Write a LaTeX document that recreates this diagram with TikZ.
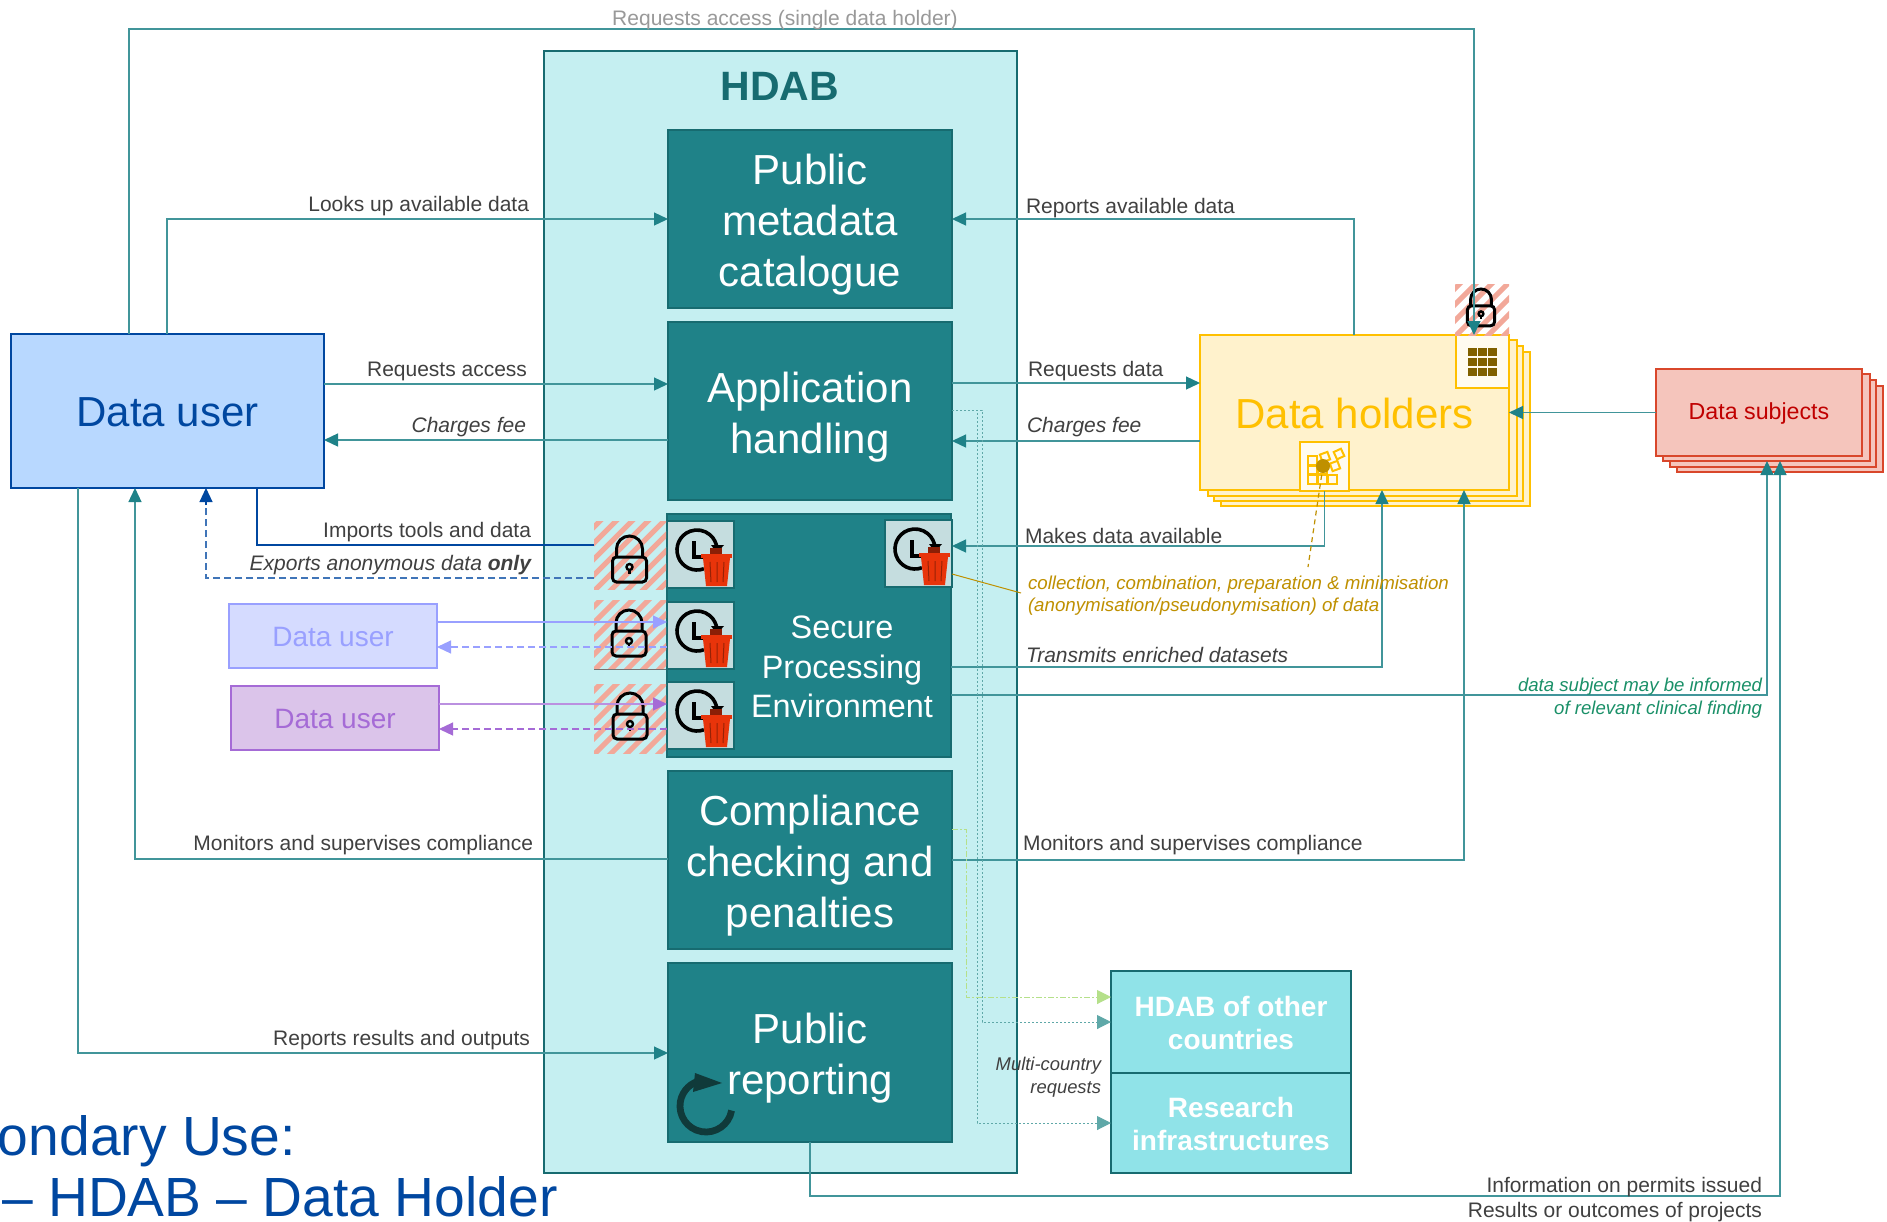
\documentclass[tikz,border=0pt]{standalone}
\usepackage{fontspec}
\setmainfont{Liberation Sans}
\usetikzlibrary{arrows.meta,calc}
\definecolor{tealbox}{HTML}{1F8288}
\definecolor{tealedge}{HTML}{176B70}
\definecolor{hdabfill}{HTML}{C5EFF1}
\definecolor{resfill}{HTML}{90E3E8}
\definecolor{conn}{HTML}{1F8288}
\definecolor{duedge}{HTML}{0047A0}
\definecolor{dufill}{HTML}{B8D8FF}
\definecolor{lavedge}{HTML}{99A0FF}
\definecolor{lavfill}{HTML}{D5DBFF}
\definecolor{puredge}{HTML}{A56BD6}
\definecolor{purfill}{HTML}{DBC4EA}
\definecolor{dhedge}{HTML}{FFC000}
\definecolor{dhfill}{HTML}{FFF2CC}
\definecolor{dsedge}{HTML}{D9472B}
\definecolor{dsfill}{HTML}{F5C5BC}
\definecolor{dstext}{HTML}{C00000}
\definecolor{lbltext}{HTML}{404040}
\definecolor{ochre}{HTML}{BF9000}
\definecolor{greent}{HTML}{1A9068}
\definecolor{hatchc}{HTML}{F2A899}
\definecolor{iconbg}{HTML}{C5DDDF}
\definecolor{trashc}{HTML}{E8340A}
\definecolor{dotc}{HTML}{5FA8A8}
\definecolor{greendash}{HTML}{B5E08A}
\definecolor{swirl}{HTML}{103A3A}
\tikzset{
  x=0.5pt,y=-0.5pt,
  bigbox/.style={draw=tealedge,fill=tealbox,line width=1.3pt},
  bigtext/.style={inner sep=0,text=white,align=center,yshift=-3pt,font=\fontsize{21}{25.5}\selectfont},
  sidebox/.style={draw=tealedge,fill=resfill,line width=1.3pt},
  sidetext/.style={inner sep=0,text=white,align=center,yshift=-0.5pt,font=\fontsize{14}{16.5}\selectfont\bfseries},
  boxlabel/.style={inner sep=0,yshift=-0.7pt},
  lbl/.style={inner sep=0,outer sep=0,yshift=-1pt,text=lbltext,font=\fontsize{10.5}{12.6}\selectfont},
  lblr/.style={lbl,anchor=east},
  lbll/.style={lbl,anchor=west},
  ilblr/.style={lblr,font=\fontsize{10.5}{12.6}\selectfont\itshape},
  ilbll/.style={lbll,font=\fontsize{10.5}{12.6}\selectfont\itshape},
  cn/.style={draw=conn!85!white,line width=0.65pt,-{Triangle[length=7pt,width=6.5pt,color=conn,fill=conn]}},
  iconbox/.style={draw=tealedge,fill=iconbg,line width=1pt},
  hatchbox/.style={path picture={\foreach \k in {-8,...,8}{\draw[hatchc,line width=2.5pt] ($(path picture bounding box.center)+(\k*16,0)+(-60,60)$) -- ++(120,-120);}}},
}
\newcommand{\pxbox}[7]{%
  \pgfmathsetmacro\pxcx{(#2+#4)/2}\pgfmathsetmacro\pxcy{(#3+#5)/2}%
  \pgfmathsetmacro\pxw{(#4-#2)*0.5}\pgfmathsetmacro\pxh{(#5-#3)*0.5}%
  \node[#6,minimum width=\pxw pt,minimum height=\pxh pt,inner sep=0,outer sep=0] (#1) at (\pxcx,\pxcy) {#7};}
\newcommand{\lockshape}{%
  \draw[black,line width=1.5pt,rounded corners=2pt] (-17,21) rectangle (17,46);
  \draw[black,line width=1.5pt] (-13,21) -- (-13,13) arc[start angle=180,end angle=360,radius=13] -- (13,21);
  \draw[black,line width=1.2pt] (0,31) circle (3);
  \draw[black,line width=1.2pt] (0,34) -- (0,38);}
\newcommand{\clockic}[3]{%
  \pxbox{#1}{#2}{#3}{#2+67}{#3+67}{iconbox}{}
  \begin{scope}[shift={(#2,#3)}]
    \draw[black,line width=1.8pt] (30,29) ++(70:20) arc[start angle=70,end angle=355,radius=20];
    \draw[black,line width=2.4pt] (27,20) -- (27,36) -- (37,36);
    \fill[black] (44,24) -- (57,24) -- (50,32) -- cycle;
    \fill[trashc!60!black] (43,27) rectangle (55,33);
    \fill[trashc] (34,33) rectangle (65,37);
    \fill[trashc] (36,37) -- (63,37) -- (60,65) -- (39,65) -- cycle;
    \draw[trashc!65!black,line width=0.5pt] (43,41) -- (44,61) (50,41) -- (50,61) (57,41) -- (56,61);
  \end{scope}}
\begin{document}
\begin{tikzpicture}
\useasboundingbox (0,0) rectangle (1887,1222);
\fill[white] (0,0) rectangle (1887,1222);
% HDAB
\pxbox{hdab}{544}{51}{1017}{1173}{draw=tealedge,fill=hdabfill,line width=1.3pt}{}
\node[inner sep=0,text=tealedge,font=\fontsize{20.5}{24}\selectfont\bfseries] (hdabt) at (780,86) {HDAB};
\pxbox{pmc}{668}{130}{952}{308}{bigbox}{}
\node[bigtext] (pmct) at (pmc.center) {Public\\metadata\\catalogue};
\pxbox{app}{668}{322}{952}{500}{bigbox}{}
\node[bigtext] (appt) at (app.center) {Application\\handling};
\pxbox{spe}{667}{514}{951}{757}{bigbox}{}
\node[inner sep=0,text=white,align=center,font=\fontsize{16.2}{19.7}\selectfont] (spet) at (842,667) {Secure\\Processing\\Environment};
\pxbox{comp}{668}{771}{952}{949}{bigbox}{}
\node[bigtext] (compt) at (comp.center) {Compliance\\checking and\\penalties};
\pxbox{pubr}{668}{963}{952}{1142}{bigbox}{}
% swirl
\draw[swirl,line width=3.4pt] (706,1106) ++(10:26) arc[start angle=10,end angle=262,radius=26];
\fill[swirl] (695,1073) -- (722,1083) -- (693,1092) -- cycle;
\node[bigtext] (pubrt) at (pubr.center) {Public\\reporting};
% side boxes
\pxbox{hdabo}{1111}{971}{1351}{1073}{sidebox}{}
\node[sidetext] (hdabot) at (hdabo.center) {HDAB of other\\countries};
\pxbox{res}{1111}{1073}{1351}{1173}{sidebox}{}
\node[sidetext] (rest) at (res.center) {Research\\infrastructures};
% users
\pxbox{du}{11}{334}{324}{488}{draw=duedge,fill=dufill,line width=1.2pt}{}
\node[boxlabel,text=duedge,font=\fontsize{21}{25}\selectfont] (dut) at (du.center) {Data user};
\pxbox{dul}{229}{604}{437}{668}{draw=lavedge,fill=lavfill,line width=1.2pt}{}
\node[boxlabel,text=lavedge,font=\fontsize{14}{17}\selectfont] (dult) at (dul.center) {Data user};
\pxbox{dup}{231}{686}{439}{750}{draw=puredge,fill=purfill,line width=1.2pt}{}
\node[boxlabel,text=puredge,font=\fontsize{14}{17}\selectfont] (dupt) at (dup.center) {Data user};
% data holders stack
\pxbox{dh4}{1221}{352}{1530}{506}{draw=dhedge,fill=dhfill,line width=1.2pt}{}
\pxbox{dh3}{1214}{346}{1523}{501}{draw=dhedge,fill=dhfill,line width=1.2pt}{}
\pxbox{dh2}{1208}{340}{1517}{496}{draw=dhedge,fill=dhfill,line width=1.2pt}{}
\pxbox{dh}{1200}{335}{1509}{490}{draw=dhedge,fill=dhfill,line width=1.2pt}{}
\node[boxlabel,text=dhedge,font=\fontsize{21}{25}\selectfont] (dht) at (dh.center) {Data holders};
\pxbox{dhgrid}{1456}{335}{1509}{388}{draw=dhedge,fill=white!70!dhfill,line width=1.2pt}{}
\foreach \i in {0,1,2}{\foreach \j in {0,1,2}{\fill[black!50!dhedge] (1468+\i*10.2,348+\j*10) rectangle ++(8.6,8.4);}}
\pxbox{dhicon}{1300}{442}{1349}{491}{draw=dhedge,fill=white!70!dhfill,line width=1.2pt}{}
\foreach \i/\j in {0/0,0/1,0/2,1/2,2/2,1/1}{\draw[dhedge,line width=1pt] (1308+\i*10,456+\j*9.5) rectangle ++(9,8.5);}
\draw[dhedge,line width=1pt,shift={(1325,457)},rotate=20] (-4,-4) rectangle (4,4);
\draw[dhedge,line width=1pt,shift={(1339,454)},rotate=25] (-4,-4) rectangle (4,4);
\draw[dhedge,line width=1pt,shift={(1335,466)},rotate=20] (-4,-4) rectangle (4,4);
% data subjects stack
\pxbox{ds4}{1677}{386}{1883}{472}{draw=dsedge,fill=dsfill,line width=1pt}{}
\pxbox{ds3}{1670}{380}{1876}{467}{draw=dsedge,fill=dsfill,line width=1pt}{}
\pxbox{ds2}{1663}{374}{1870}{461}{draw=dsedge,fill=dsfill,line width=1pt}{}
\pxbox{ds}{1656}{369}{1862}{456}{draw=dsedge,fill=dsfill,line width=1pt}{}
\node[boxlabel,text=dstext,font=\fontsize{11.6}{14}\selectfont] (dst) at (ds.center) {Data subjects};
% clocks
\clockic{ck1}{667}{521}
\clockic{ck2}{667}{602}
\clockic{ck3}{667}{682}
\clockic{ck4}{885}{520}
% locks
\pxbox{hb1}{594}{521}{666}{589}{hatchbox}{}
\pxbox{hb2}{594}{600}{666}{669}{hatchbox}{}
\pxbox{hb3}{594}{684}{666}{753}{hatchbox}{}
\pxbox{hbt}{1455}{284}{1509}{335}{hatchbox}{}
\draw[black!55,line width=0.5pt] (hb2.south west) -- (hb2.south east);
\begin{scope}[shift={(629.5,536)}]\lockshape\end{scope}
\begin{scope}[shift={(629,610)}]\lockshape\end{scope}
\begin{scope}[shift={(630,693)}]\lockshape\end{scope}
\begin{scope}[shift={(1481,289)},scale=0.8]\lockshape\end{scope}
% connectors: left
\draw[cn] (du.north -| 167,0) -- (167,219) -- (pmc.west |- 0,219);
\draw[cn] (du.north -| 129,0) -- (129,29) -- (1474,29) -- (dh.north -| 1474,0);
\draw[cn] (du.east |- 0,384) -- (app.west |- 0,384);
\draw[cn] (app.west |- 0,440) -- (du.east |- 0,440);
\draw[draw=duedge,line width=0.6pt] (du.south -| 257,0) -- (257,545) -- (hb1.west |- 0,545);
\draw[draw=duedge!75!white,line width=0.55pt,dash pattern=on 3.5pt off 2pt] (hb1.west |- 0,578) -- (206,578) -- (206,505);
\draw[draw=duedge,line width=0.55pt,-{Triangle[length=7pt,width=6.5pt,fill=duedge]}] (206,505) -- (du.south -| 206,0);
\draw[draw=lavedge,line width=0.6pt,-{Triangle[length=7pt,width=6.5pt,fill=lavedge]}] (dul.east |- 0,622) -- (ck2.west |- 0,622);
\draw[draw=lavedge,line width=0.55pt,dash pattern=on 3.5pt off 2pt,-{Triangle[length=7pt,width=6.5pt,fill=lavedge]}] (ck2.west |- 0,647) -- (dul.east |- 0,647);
\draw[draw=puredge!75!white,line width=0.6pt,-{Triangle[length=7pt,width=6.5pt,color=puredge,fill=puredge]}] (dup.east |- 0,704) -- (ck3.west |- 0,704);
\draw[draw=puredge,line width=0.55pt,dash pattern=on 3.5pt off 2pt,-{Triangle[length=7pt,width=6.5pt,fill=puredge]}] (ck3.west |- 0,729) -- (dup.east |- 0,729);
\draw[cn] (comp.west |- 0,859) -- (135,859) -- (du.south -| 135,0);
\draw[cn] (du.south -| 78,0) -- (78,1053) -- (pubr.west |- 0,1053);
% connectors: right
\draw[cn] (dh.north -| 1354,0) -- (1354,219) -- (pmc.east |- 0,219);
\draw[cn] (app.east |- 0,383) -- (dh.west |- 0,383);
\draw[cn] (dh.west |- 0,441) -- (app.east |- 0,441);
\draw[cn] (dhicon.south) -- (1324.5,546) -- (ck4.east |- 0,546);
\draw[cn] (spe.east |- 0,667) -- (1382,667) -- (dh.south -| 1382,0);
\draw[cn] (spe.east |- 0,695) -- (1767,695) -- (ds2.south -| 1767,0);
\draw[cn] (comp.east |- 0,860) -- (1464,860) -- (dh.south -| 1464,0);
\draw[cn] (ds.west) -- (dh.east |- ds.west);
\draw[cn] (pubr.south) -- (810,1196) -- (1780,1196) -- (ds2.south -| 1780,0);
% multi-country
\draw[draw=dotc,line width=0.5pt,dash pattern=on 1pt off 1pt,-{Triangle[length=7pt,width=7pt,fill=dotc]}] (app.east |- 0,410) -- (982,410) -- (982,1022) -- (hdabo.west |- 0,1022);
\draw[draw=dotc,line width=0.5pt,dash pattern=on 1pt off 1pt,-{Triangle[length=7pt,width=7pt,fill=dotc]}] (app.east |- 0,410) -- (977,410) -- (977,1123) -- (res.west |- 0,1123);
\draw[draw=greendash,line width=0.5pt,dash pattern=on 3pt off 1pt on 1pt off 1pt,-{Triangle[length=7pt,width=7pt,fill=greendash]}] (comp.east |- 0,829) -- (966,829) -- (966,997) -- (hdabo.west |- 0,997);
% ochre marks
\coordinate (ochre1) at (1021,593);
\coordinate (ochre2) at (1308,567);
\fill[ochre] (1323,466) circle (7);
\draw[ochre,line width=0.5pt] (ck4.east |- 0,574) -- (ochre1);
\draw[ochre,line width=0.6pt,dash pattern=on 2.5pt off 2pt] (1323,466) -- (ochre2);
% labels
\node[lbl,text=black!40] (t0) at (785,18) {Requests access (single data holder)};
\node[lblr] (t1) at (529,204) {Looks up available data};
\node[lbll] (t2) at (1026,206) {Reports available data};
\node[lblr] (t3) at (527,369) {Requests access};
\node[ilblr] (t4) at (526,425) {Charges fee};
\node[lbll] (t5) at (1028,369) {Requests data};
\node[ilbll] (t6) at (1027,425) {Charges fee};
\node[lblr] (t7) at (531,530) {Imports tools and data};
\node[ilblr] (t8) at (531,563) {Exports anonymous data \textbf{only}};
\node[lbll] (t9) at (1025,534) {Makes data available};
\node[lbll,text=ochre,font=\fontsize{9.35}{11}\selectfont\itshape,align=left] (t10) at (1028,594) {collection, combination, preparation \& minimisation\\(anonymisation/pseudonymisation) of data};
\node[ilbll] (t11) at (1026,653) {Transmits enriched datasets};
\node[lblr] (t12) at (533,843) {Monitors and supervises compliance};
\node[lbll] (t13) at (1023,843) {Monitors and supervises compliance};
\node[lblr] (t14) at (530,1038) {Reports results and outputs};
\node[lblr,font=\fontsize{9.2}{11.4}\selectfont\itshape,align=right] (t15) at (1101,1075) {Multi-country\\requests};
\node[lblr,text=greent,font=\fontsize{9.3}{11.4}\selectfont\itshape,align=right] (t16) at (1762,696) {data subject may be informed\\of relevant clinical finding};
\node[lblr] (t17) at (1762,1185) {Information on permits issued};
\node[lblr] (t18) at (1762,1210) {Results or outcomes of projects};
\node[inner sep=0,anchor=base east,text=duedge,font=\fontsize{27.6}{30}\selectfont] (t19) at (296,1155) {ondary Use:};
\node[inner sep=0,anchor=base east,text=duedge,font=\fontsize{27.6}{30}\selectfont] (t20) at (558,1216) {– HDAB – Data Holder};
\end{tikzpicture}
\end{document}
